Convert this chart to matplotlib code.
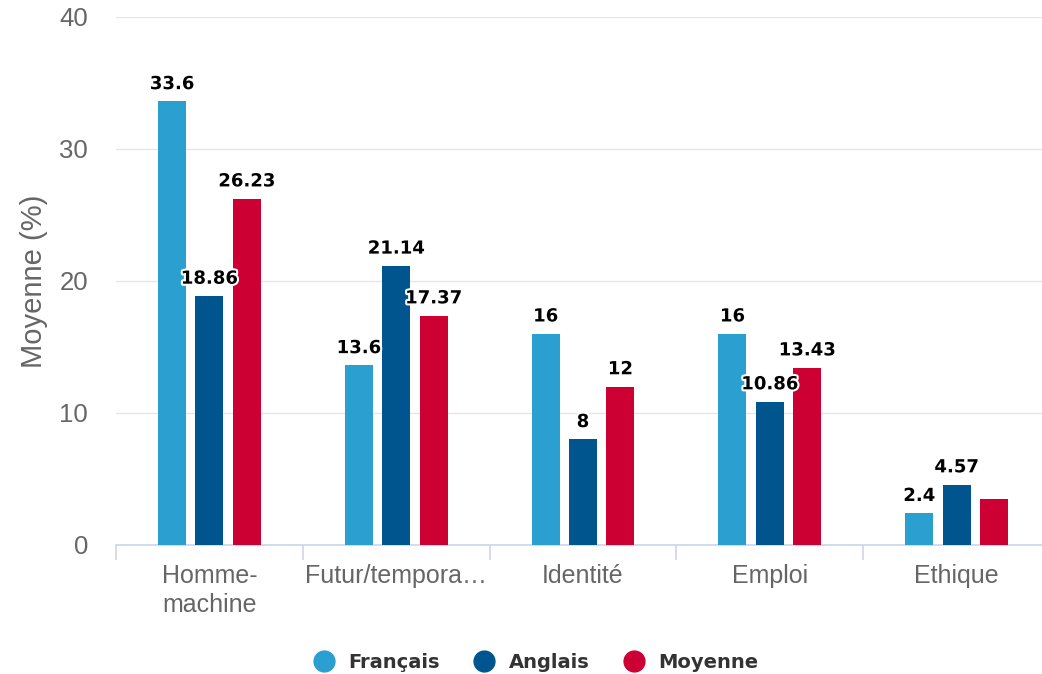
import numpy as np
import matplotlib.pyplot as plt
import matplotlib.patheffects as pe
from matplotlib.lines import Line2D

categories = ['Homme-\nmachine', 'Futur/tempora…', 'Identité', 'Emploi', 'Ethique']
series_names = ['Français', 'Anglais', 'Moyenne']
francais = [33.6, 13.6, 16, 16, 2.4]
anglais = [18.86, 21.14, 8, 10.86, 4.57]
moyenne = [26.23, 17.37, 12, 13.43, 3.49]
# Highcharts hid the overlapping label on the last Moyenne bar
show_label = [[True] * 5, [True] * 5, [True, True, True, True, False]]

colors = ['#2a9fd0', '#00558f', '#cc0033']

W, H = 1042, 674
fig = plt.figure(figsize=(W / 100, H / 100), dpi=100)
left, right, top, bottom = 116, 1050, 17, 545
ax = fig.add_axes([left / W, 1 - bottom / H, (right - left) / W, (bottom - top) / H])

x = np.arange(len(categories))
width = 0.15
step = 0.2
valeurs = [francais, anglais, moyenne]

for i, (vals, col) in enumerate(zip(valeurs, colors)):
    pos = x + (i - 1) * step
    ax.bar(pos, vals, width, color=col, zorder=3)
    for j, (p, v) in enumerate(zip(pos, vals)):
        if not show_label[i][j]:
            continue
        txt = ax.annotate(f'{v:g}', (p, v), xytext=(0, 6), textcoords='offset points',
                          ha='center', va='bottom', fontsize=13, fontweight='bold',
                          family='DejaVu Sans', color='black', zorder=5)
        txt.set_path_effects([pe.withStroke(linewidth=3, foreground='white')])

ax.set_xlim(-0.5, 4.5)
ax.set_ylim(0, 40)
ax.set_yticks([0, 10, 20, 30, 40])
ax.yaxis.grid(True, color='#e6e6e6', linewidth=1, zorder=0)
ax.set_axisbelow(True)
for s in ['top', 'right', 'left']:
    ax.spines[s].set_visible(False)
ax.spines['bottom'].set_color('#ccd6eb')
ax.spines['bottom'].set_linewidth(1.2)

ax.tick_params(axis='y', length=0, labelsize=18.5, labelcolor='#666666', pad=20)
ax.set_xticks(x)
ax.set_xticklabels(categories, fontsize=18, color='#666666', family='Liberation Sans',
                   linespacing=1.25)
ax.tick_params(axis='x', length=0, pad=14)
ax.set_xticks(np.arange(-0.5, 5, 1), minor=True)
ax.tick_params(axis='x', which='minor', length=11, color='#ccd6eb', width=1.2)
for lab in ax.get_yticklabels():
    lab.set_family('Liberation Sans')

ax.set_ylabel('Moyenne (%)', fontsize=21, color='#666666', family='Liberation Sans', labelpad=8)

handles = [Line2D([0], [0], marker='o', linestyle='', markersize=15, markerfacecolor=c,
                  markeredgecolor=c) for c in colors]
leg = fig.legend(handles, series_names, loc='center', bbox_to_anchor=(0.51, 1 - 662 / H),
                 ncol=3, frameon=False, handletextpad=0.25, columnspacing=1.3,
                 prop={'family': 'DejaVu Sans', 'weight': 'bold', 'size': 14})
for t in leg.get_texts():
    t.set_color('#333333')

fig.savefig('out.png', dpi=100)
